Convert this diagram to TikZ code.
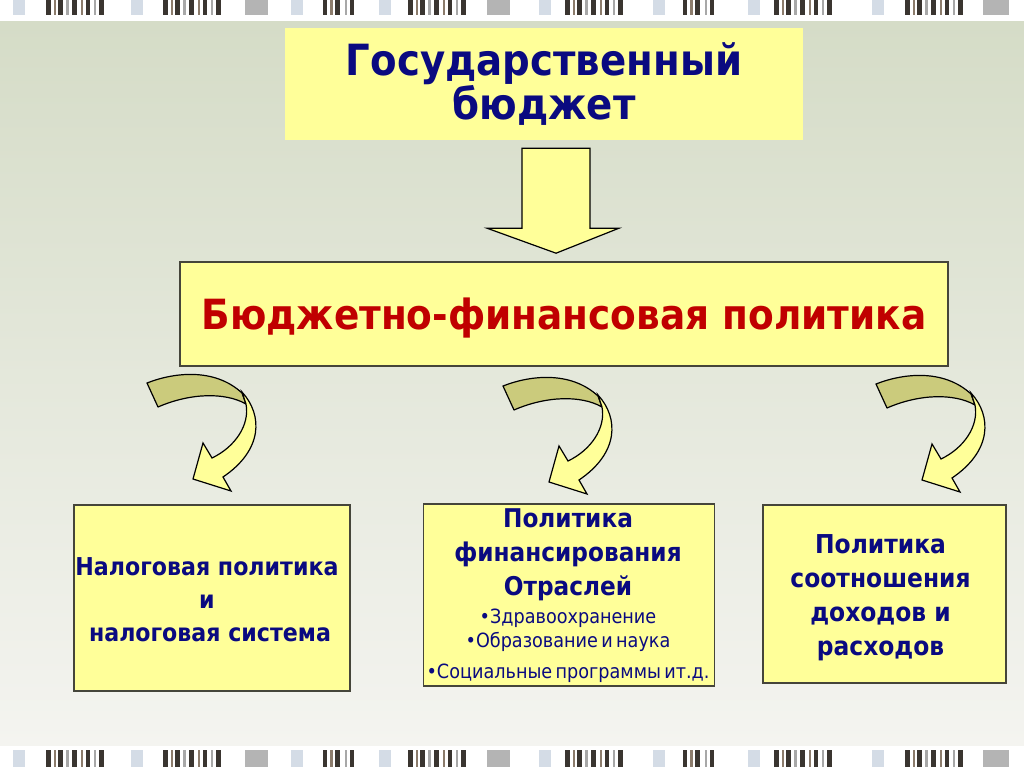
\documentclass[tikz,border=0pt]{standalone}
\usepackage{fontspec}
\setmainfont[FakeStretch=0.9]{DejaVu Sans}
\usetikzlibrary{calc}
\definecolor{bgtop}{HTML}{D5DCC7}
\definecolor{bgmid}{HTML}{EAEDE4}
\definecolor{bgbot}{HTML}{F4F4F0}
\definecolor{boxfill}{HTML}{FFFF99}
\definecolor{boxedge}{HTML}{45453A}
\definecolor{olive}{HTML}{CBCB7C}
\definecolor{navy}{HTML}{0A0A80}
\definecolor{dred}{HTML}{C00000}
\definecolor{barA}{HTML}{3A3530}
\definecolor{barB}{HTML}{8C7C6C}
\definecolor{barC}{HTML}{A8A8A8}
\definecolor{barG}{HTML}{B4B4B4}
\definecolor{barL}{HTML}{D4DCE6}
\begin{document}
\begin{tikzpicture}[x=1pt,y=-1pt,
  plainbox/.style={fill=boxfill, inner sep=0pt},
  edgebox/.style={fill=boxfill, draw=boxedge, line width=1.1pt, inner sep=0pt},
  headtxt/.style={text=navy, inner sep=0pt, align=center},
  blockarrow/.style={fill=boxfill, draw=black, line width=1.2pt, line join=miter},
  curvarrow/.pic={
    \fill[olive] (0,0) .. controls (28,-11) and (68,-15) .. (95,10) -- (99,21)
       .. controls (78,9) and (43,10) .. (11,24) -- cycle;
    \draw[black, line width=1.2pt, line join=round] (0,0) .. controls (28,-11) and (68,-15) .. (95,10) -- (99,21)
       .. controls (78,9) and (43,10) .. (11,24) -- cycle;
    \draw[fill=boxfill, draw=black, line width=1.2pt, line join=miter]
       (95,9) .. controls (116,32) and (116,67) .. (76,94) -- (84,108) -- (46,96)
       -- (56,60) -- (65,75) .. controls (88,64) and (103,42) .. (99,21) -- cycle;
  }]
\useasboundingbox (0,0) rectangle (1024,767);
% background
\fill[white] (0,0) rectangle (1024,767);
\shade[top color=bgtop, middle color=bgmid, bottom color=bgbot] (0,22) rectangle (1024,745);
% barcode strips
\foreach \cx in {46,163,408,565,774,905}{
  \foreach \o/\w/\c in {0/5/barA,8/2/barB,12/5/barA,20/3/barC,26/5/barA,35/2/barB,40/4/barA,48/2/barC,53/5/barA}{
    \fill[\c] (\cx+\o,0) rectangle ++(\w,15);
    \fill[\c] (\cx+\o,750) rectangle ++(\w,17);
  }
}
\foreach \cx in {323,683}{
  \foreach \o/\w/\c in {0/4/barA,7/3/barB,12/5/barA,22/2/barC,27/4/barA}{
    \fill[\c] (\cx+\o,0) rectangle ++(\w,15);
    \fill[\c] (\cx+\o,750) rectangle ++(\w,17);
  }
}
\foreach \cx/\w in {245/23,487/23,983/26}{
  \fill[barG] (\cx,0) rectangle ++(\w,15);
  \fill[barG] (\cx,750) rectangle ++(\w,17);
}
\foreach \cx in {13,131,291,379,539,653,748,872}{
  \fill[barL] (\cx,0) rectangle ++(12,15);
  \fill[barL] (\cx,750) rectangle ++(12,17);
}
% top box
\node[plainbox, minimum width=518pt, minimum height=112pt, text=navy, align=center,
      font=\fontsize{43}{42}\selectfont\bfseries] (gb) at (544,84) {Государственный\\бюджет};
% middle box
\node[edgebox, minimum width=768pt, minimum height=104pt] (bfp) at (564,314) {};
\node[text=dred, inner sep=0pt, font=\fontsize{41.6}{44}\selectfont\bfseries] (bfptxt)
   at ($(bfp.center)+(0,4)$) {Бюджетно-финансовая политика};
% down arrow
\coordinate (dt) at ($(gb.south)+(12,8)$);
\draw[blockarrow] ($(dt)+(-34,0)$) -- ($(dt)+(34,0)$) -- ($(dt)+(34,80)$) -- ($(dt)+(63,80)$)
   -- ($(dt)+(0,105)$) -- ($(dt)+(-69,80)$) -- ($(dt)+(-34,80)$) -- cycle;
% bottom boxes
\node[edgebox, minimum width=276pt, minimum height=186pt] (nal) at (212,598) {};
\node[edgebox, minimum width=291pt, minimum height=182pt] (fin) at (569,595) {};
\node[edgebox, minimum width=243pt, minimum height=178pt] (soot) at (884.5,594) {};
% texts of bottom boxes
\node[headtxt, font=\fontsize{24.6}{33}\selectfont\bfseries] (naltxt) at ($(nal.center)+(-5,2)$)
   {Налоговая политика\\и\\\hspace*{6pt}налоговая система};
\node[text=navy, inner sep=0pt, text width=340pt, align=center] (fintxt) at ($(fin.center)+(-1,1)$)
   {\fontsize{25.8}{34}\selectfont\bfseries Политика\\финансирования\\Отраслей\par
    \vspace{4pt}\fontsize{19.6}{24}\selectfont\mdseries •Здравоохранение\\•Образование и наука\\[7pt]•Социальные программы ит.д.\par};
\node[headtxt, font=\fontsize{26}{34}\selectfont\bfseries] (soottxt) at ($(soot.center)+(-4,4)$)
   {Политика\\соотношения\\доходов и\\расходов};
% curved arrows
\coordinate (c1) at (147,383);
\coordinate (c2) at (503,386);
\coordinate (c3) at (876,384);
\pic at (c1) {curvarrow};
\pic at (c2) {curvarrow};
\pic at (c3) {curvarrow};
\end{tikzpicture}
\end{document}
